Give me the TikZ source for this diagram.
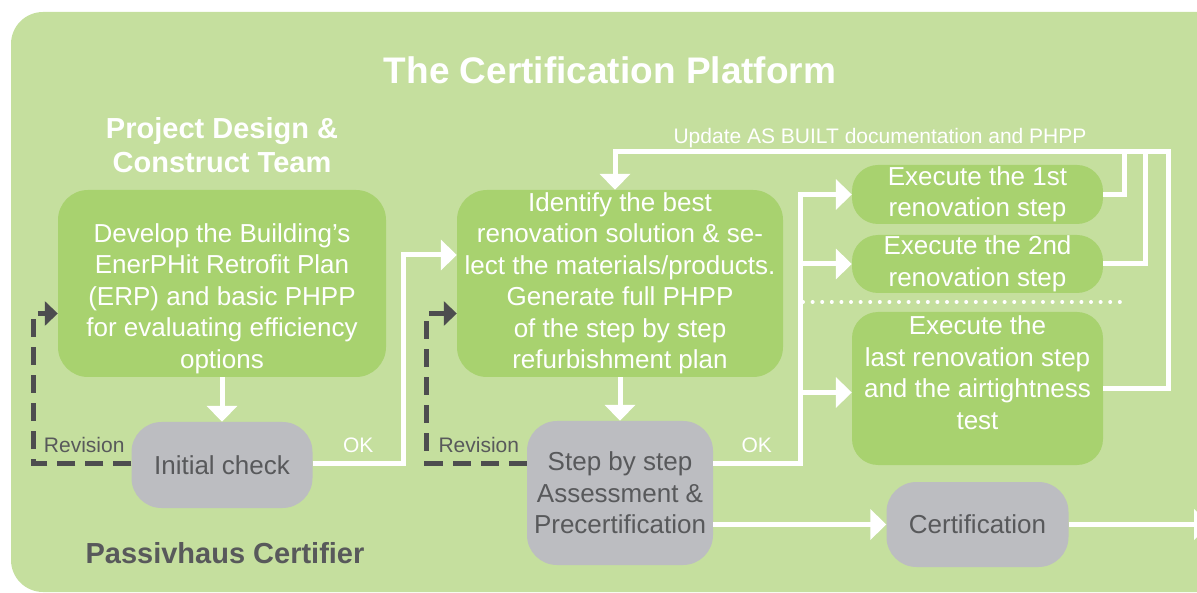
\documentclass[tikz,border=0pt]{standalone}
\usepackage{fontspec}
\setmainfont{Liberation Sans}
\usepackage{tikz}
\usetikzlibrary{arrows.meta,shapes}

\definecolor{platformgreen}{RGB}{197,223,158}
\definecolor{boxgreen}{RGB}{168,210,111}
\definecolor{checkgrey}{RGB}{188,189,193}
\definecolor{textgrey}{RGB}{88,89,91}
\definecolor{revgrey}{RGB}{77,77,79}

\tikzset{
  greenbox/.style={fill=boxgreen, rounded corners=30pt, text=white, align=center,
    inner sep=1pt, font=\fontsize{26}{31.5}\selectfont},
  greybox/.style={greenbox, fill=checkgrey, text=textgrey},
  execbox/.style={greenbox, rounded corners=26pt, minimum width=251pt},
  bodytext/.style={text=white, align=center, inner sep=1pt, font=\fontsize{26}{31.5}\selectfont},
  flow/.style={draw=white, line width=5pt, -{Triangle[length=16pt,width=30pt]}},
  flowline/.style={draw=white, line width=5pt},
  revision/.style={draw=revgrey, line width=5pt, dash pattern=on 18pt off 10pt,
    -{Triangle[length=13pt,width=24pt]}},
  lbl/.style={font=\fontsize{21}{24}\selectfont, inner sep=0pt},
  headline/.style={text=white, align=center, font=\bfseries\fontsize{29}{34}\selectfont}
}

\begin{document}
\begin{tikzpicture}[x=1pt,y=-1pt]
\useasboundingbox (0,0) rectangle (1197,593);
\fill[platformgreen, rounded corners=32pt] (11,12) rectangle (1250,592);

\node (title) [text=white, font=\bfseries\fontsize{37}{44}\selectfont] at (610,70)
{The Certification Platform};

% design team side
\node (box1) [greenbox, minimum width=328pt, minimum height=187pt] at (222,283.5) {};
\node (box1text) [bodytext, node distance=15pt, below of=box1]
{Develop the Building's\\EnerPHit Retrofit Plan\\(ERP) and basic PHPP\\for evaluating efficiency\\options};
\node (team) [headline, node distance=138.5pt, above of=box1]
{Project Design \&\\Construct Team};
\node (box2) [greenbox, minimum width=326pt, minimum height=187pt, node distance=398pt, right of=box1]
{Identify the best\\renovation solution \& se-\\lect the materials/products.\\Generate full PHPP\\of the step by step\\refurbishment plan};

% certifier side
\node (initcheck) [greybox, minimum width=181pt, minimum height=86pt, node distance=181.5pt, below of=box1]
{Initial check};
\node (step) [greybox, minimum width=186pt, minimum height=144pt, node distance=209.5pt, below of=box2]
{Step by step\\Assessment \&\\Precertification};
\node (certifier) [headline, text=textgrey, node distance=88pt, below of=initcheck, xshift=3pt]
{Passivhaus Certifier};

% renovation steps
\node (exec2) [execbox, minimum height=58pt, node distance=357.5pt, right of=box2, yshift=19.5pt]
{Execute the 2nd\\renovation step};
\node (exec1) [execbox, minimum height=59pt, node distance=69.5pt, above of=exec2]
{Execute the 1st\\renovation step};
\node (exec3) [execbox, minimum height=153pt, node distance=124.5pt, below of=exec2] {};
\node (exec3text) [bodytext, node distance=16pt, above of=exec3]
{Execute the\\last renovation step\\and the airtightness\\test};
\node (cert) [greybox, minimum width=182pt, minimum height=85pt, node distance=136pt, below of=exec3]
{Certification};

\draw[white, line width=4pt, line cap=round, dash pattern=on 0pt off 9.6pt] (803,302) -- (1120,302);

\node (update) [lbl, text=white] at (880,138) {Update AS BUILT documentation and PHPP};
\coordinate (looptop) at (1168,152);
\coordinate (exit) at (1210,524.5);

\draw[flow] (box1) -- (initcheck);
\draw[flow] ([yshift=2pt]initcheck.east) -- node[lbl, text=white, above=7.5pt] {OK}
  ++(91,0) |- ([yshift=28.5pt]box2.west);
\draw[revision] ([yshift=2pt]initcheck.west) -- node[lbl, text=textgrey, above=7.5pt, pos=0.48] {Revision}
  ++(-98,0) |- ([yshift=-30pt]box1.west);

\draw[flow] (box2) -- (step);
\draw[revision] ([yshift=30pt]step.west) -- node[lbl, text=textgrey, above=7.5pt, pos=0.48] {Revision}
  ++(-100,0) |- ([yshift=-30pt]box2.west);
\draw[flow] ([yshift=30pt]step.east) -- node[lbl, text=white, above=7.5pt] {OK}
  ++(87,0) coordinate (trunk) |- (exec1.west);
\draw[flow] (trunk) |- (exec2.west);
\draw[flow] (trunk) |- ([yshift=-4pt]exec3.west);
\draw[flow] (step.east |- cert.west) -- (cert.west);
\draw[flow] (cert.east) -- (exit);

\draw[flow] (exec3.east) -| (looptop) -| ([xshift=-5pt]box2.north);
\draw[flowline] (exec2.east) -- ++(42,0) |- (looptop);
\draw[flowline] (exec1.east) -- ++(21,0) |- (looptop);
\end{tikzpicture}
\end{document}
